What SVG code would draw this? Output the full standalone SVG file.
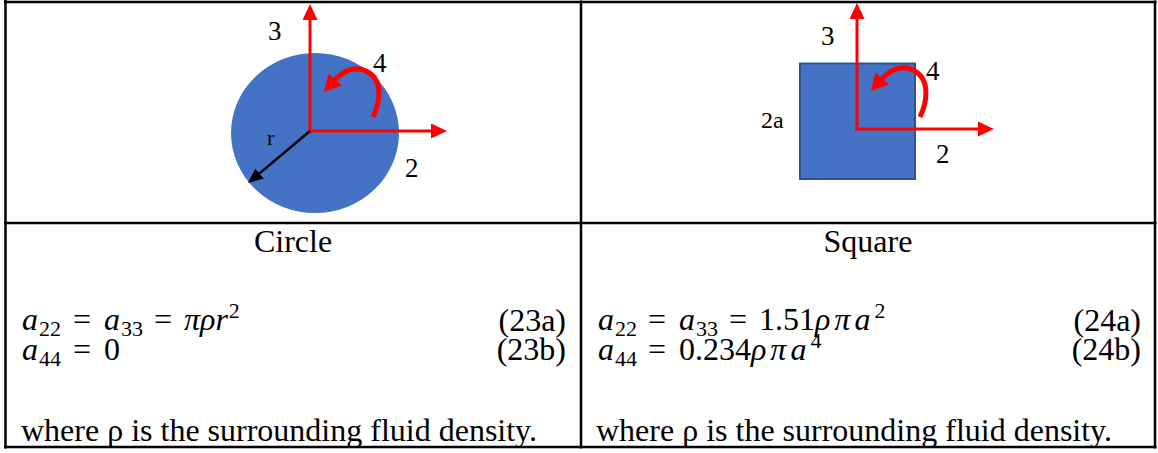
<svg xmlns="http://www.w3.org/2000/svg" width="1158" height="453" viewBox="0 0 1158 453">
<style>
.t{font-family:"Liberation Serif","Times New Roman",serif;fill:#000}
.lbl{font-size:27px}
.cap{font-size:32px}
.eq{font-family:"Liberation Serif","Times New Roman",serif;font-size:32px;fill:#000}
.i{font-style:italic}
.g{font-style:italic;letter-spacing:4px}
.sm{font-size:22px}
.red{stroke:#FF0000;stroke-width:3;fill:none}
.curl{stroke:#FF0000;stroke-width:5;fill:none;stroke-linecap:butt}
.grid{stroke:#000;stroke-width:2.5;fill:none}
.shape{fill:#4472C4}
</style>
<defs>
<marker id="ah" markerUnits="userSpaceOnUse" markerWidth="16" markerHeight="16" refX="0" refY="7.5" orient="auto">
<path d="M0,0 L16,7.5 L0,15 z" fill="#FF0000"/>
</marker>
<marker id="ahc" markerUnits="userSpaceOnUse" markerWidth="20" markerHeight="20" refX="2" refY="9" orient="auto">
<path d="M0,0 L17,9 L0,18 z" fill="#FF0000"/>
</marker>
<marker id="ahb" markerUnits="userSpaceOnUse" markerWidth="16" markerHeight="16" refX="0" refY="6.5" orient="auto">
<path d="M0,0 L15,6.5 L0,13 z" fill="#000"/>
</marker>
</defs>

<g id="table">
<line class="grid" x1="5.5" y1="0" x2="5.5" y2="448.5"/>
<line class="grid" x1="4" y1="2" x2="1156.5" y2="2"/>
<line class="grid" x1="1155" y1="0.5" x2="1155" y2="448.5"/>
<line class="grid" x1="4" y1="447" x2="1156.5" y2="447"/>
<line class="grid" x1="581" y1="0.5" x2="581" y2="448.5"/>
<line class="grid" x1="4" y1="223" x2="1156.5" y2="223"/>
</g>

<g id="circle-node">
<ellipse class="shape" cx="315" cy="133" rx="84" ry="80"/>
</g>
<g id="square-node">
<rect class="shape" x="800" y="63.5" width="115" height="115.5" stroke="#2F528F" stroke-width="2"/>
</g>

<g id="connectors">
<line class="red" x1="310" y1="132.5" x2="310" y2="20" marker-end="url(#ah)"/>
<line class="red" x1="308.5" y1="131" x2="431" y2="131" marker-end="url(#ah)"/>
<line x1="310" y1="131" x2="259.5" y2="173.4" stroke="#000" stroke-width="2.5" marker-end="url(#ahb)"/>
<path class="curl" d="M373,117 C381,100 383,79 366,71 C355,66 344,70 334,81" marker-end="url(#ahc)"/>

<line class="red" x1="857" y1="130.5" x2="857" y2="19" marker-end="url(#ah)"/>
<line class="red" x1="855.5" y1="129" x2="978" y2="129" marker-end="url(#ah)"/>
<path class="curl" d="M920,117 C928,100 930,78 913,70 C902,65 891,69 881,80" marker-end="url(#ahc)"/>
</g>

<g id="labels">
<text class="t lbl" x="268" y="40">3</text>
<text class="t lbl" x="373" y="72">4</text>
<text class="t lbl" x="405" y="177">2</text>
<text class="t" style="font-size:22px" x="267" y="145">r</text>
<text class="t lbl" x="821" y="45">3</text>
<text class="t lbl" x="926" y="80">4</text>
<text class="t lbl" x="936" y="163">2</text>
<text class="t" style="font-size:24px" x="761" y="128">2a</text>
</g>

<g id="circle-text">
<text class="t cap" x="293" y="252" text-anchor="middle">Circle</text>
<text class="eq"><tspan class="i" x="22" y="330">a</tspan><tspan class="sm" x="39" y="336">22</tspan><tspan x="73" y="330">=</tspan><tspan class="i" x="104" y="330">a</tspan><tspan class="sm" x="121" y="336">33</tspan><tspan x="154" y="330">=</tspan><tspan class="i" x="184" y="330">πρr</tspan><tspan class="sm" dx="1" dy="-12">2</tspan></text>
<text class="eq"><tspan class="i" x="22" y="360">a</tspan><tspan class="sm" x="39" y="366">44</tspan><tspan x="73" y="360">=</tspan><tspan x="104" y="360">0</tspan></text>
<text class="t cap" x="566" y="331" text-anchor="end">(23a)</text>
<text class="t cap" x="566" y="360" text-anchor="end">(23b)</text>
<text class="t cap" x="21" y="441">where ρ is the surrounding fluid density.</text>
</g>

<g id="square-text">
<text class="t cap" x="868" y="252" text-anchor="middle">Square</text>
<text class="eq"><tspan class="i" x="598" y="330">a</tspan><tspan class="sm" x="615" y="336">22</tspan><tspan x="648" y="330">=</tspan><tspan class="i" x="679" y="330">a</tspan><tspan class="sm" x="696" y="336">33</tspan><tspan x="729" y="330">=</tspan><tspan x="759" y="330">1.51</tspan><tspan class="g">ρπa</tspan><tspan class="sm" dy="-12">2</tspan></text>
<text class="eq"><tspan class="i" x="598" y="360">a</tspan><tspan class="sm" x="615" y="366">44</tspan><tspan x="648" y="360">=</tspan><tspan x="679" y="360">0.234</tspan><tspan class="g">ρπa</tspan><tspan class="sm" dy="-12">4</tspan></text>
<text class="t cap" x="1141" y="331" text-anchor="end">(24a)</text>
<text class="t cap" x="1141" y="360" text-anchor="end">(24b)</text>
<text class="t cap" x="596" y="441">where ρ is the surrounding fluid density.</text>
</g>
</svg>
